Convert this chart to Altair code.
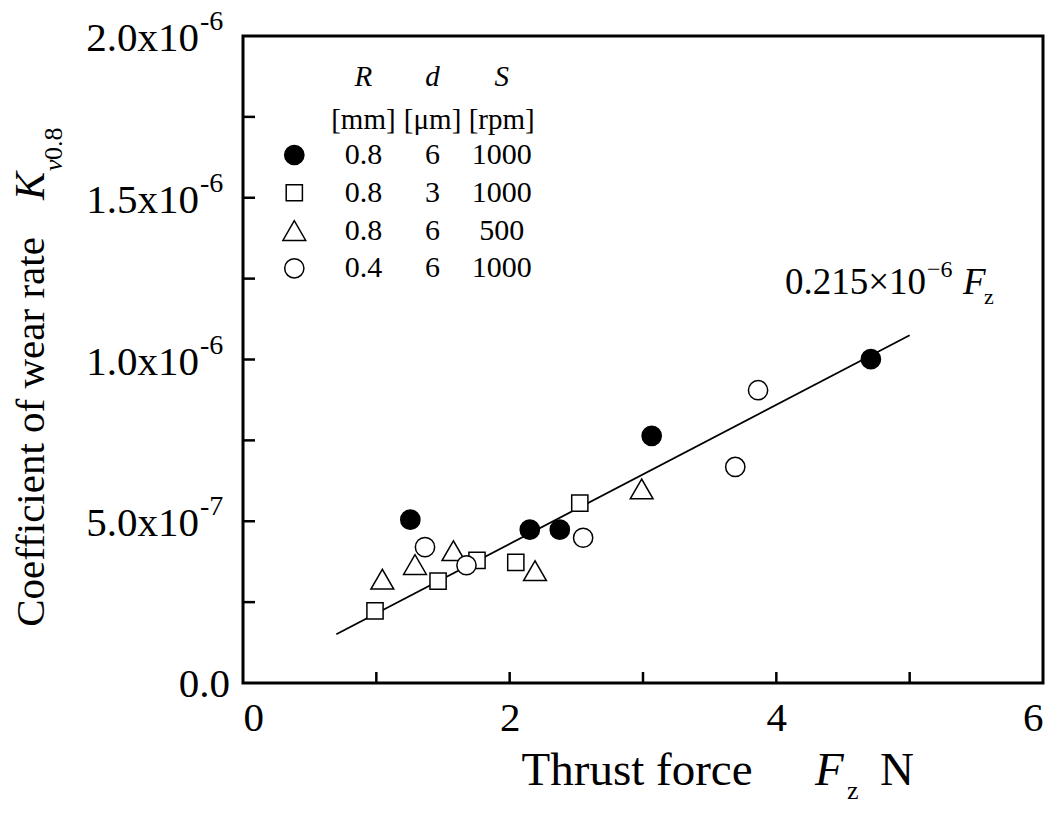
import altair as alt
import pandas as pd

FONT = "Liberation Serif"

# ---- data ----
series_names = ["R0.8 d6 S1000", "R0.8 d3 S1000", "R0.8 d6 S500", "R0.4 d6 S1000"]
# filled circles
fc_x = [1.255, 2.151, 2.376, 3.065, 4.709]
fc_y = [5.05, 4.74, 4.74, 7.64, 10.01]          # x 1e-7
# open squares
sq_x = [0.99, 1.463, 1.755, 2.046, 2.526]
sq_y = [2.23, 3.15, 3.79, 3.73, 5.56]
# open triangles
tr_x = [1.045, 1.29, 1.578, 2.19, 2.99]
tr_y = [3.21, 3.66, 4.09, 3.47, 6.00]
# open circles
oc_x = [1.365, 1.676, 2.551, 3.692, 3.863]
oc_y = [4.20, 3.64, 4.49, 6.68, 9.05]

fit_slope = 0.215e-6
fit_x = [0.7, 5.0]

x_tick_vals = [1, 2, 3, 4, 5]
y_tick_vals = [0.25e-6, 0.5e-6, 0.75e-6, 1.0e-6, 1.25e-6, 1.5e-6, 1.75e-6]
y_label_vals = [0.5e-6, 1.0e-6, 1.5e-6, 2.0e-6]
y_label_mant = ["5.0x10", "1.0x10", "1.5x10", "2.0x10"]
y_label_exp = ["-7", "-6", "-6", "-6"]

leg_R = ["0.8", "0.8", "0.8", "0.4"]
leg_d = ["6", "3", "6", "6"]
leg_S = ["1000", "1000", "500", "1000"]
leg_head1 = ["R", "d", "S"]
leg_head2 = ["[mm]", "[\u03bcm]", "[rpm]"]

# ---- tables ----
rows = []
order = [1, 2, 3, 0]
all_x = [fc_x, sq_x, tr_x, oc_x]
all_y = [fc_y, sq_y, tr_y, oc_y]
for i in order:
    for xv, yv in zip(all_x[i], all_y[i]):
        rows.append({"series": series_names[i], "F": xv, "K": yv * 1e-7})
df = pd.DataFrame(rows)

line_df = pd.DataFrame({"F": fit_x, "K": [fit_slope * v for v in fit_x]})

W, H = 800, 647
xs = alt.Scale(domain=[0, 6], nice=False, zero=False)
ys = alt.Scale(domain=[0, 2e-6], nice=False, zero=False)

TRI = "M0,-0.866L-1,0.866L1,0.866Z"
shape_scale = alt.Scale(domain=series_names, range=["circle", "square", TRI, "circle"])
fill_scale = alt.Scale(domain=series_names, range=["black", "white", "white", "white"])
size_scale = alt.Scale(type="ordinal", domain=series_names, range=[370, 262, 520, 370])

points = alt.Chart(df).mark_point(filled=True, stroke="black", strokeWidth=1.5, opacity=1).encode(
    x=alt.X("F:Q", scale=xs, axis=alt.Axis(values=[0, 2, 4, 6], format="d", labelFont=FONT,
                                          labelFontSize=41, labelColor="black", labelPadding=15,
                                          ticks=False, tickSize=0, domain=False, grid=False,
                                          title=None)),
    y=alt.Y("K:Q", scale=ys, axis=None),
    shape=alt.Shape("series:N", scale=shape_scale, legend=None),
    fill=alt.Fill("series:N", scale=fill_scale, legend=None),
    size=alt.Size("series:N", scale=size_scale, legend=None),
)

line = alt.Chart(line_df).mark_line(color="black", strokeWidth=1.8).encode(
    x=alt.X("F:Q", scale=xs, axis=None),
    y=alt.Y("K:Q", scale=ys, axis=None),
)

xt = alt.Chart(pd.DataFrame({"F": x_tick_vals})).mark_rule(color="black", strokeWidth=2.5).encode(
    x=alt.X("F:Q", scale=xs, axis=None), y=alt.value(H - 11), y2=alt.value(H))
yt = alt.Chart(pd.DataFrame({"K": y_tick_vals})).mark_rule(color="black", strokeWidth=2.5).encode(
    y=alt.Y("K:Q", scale=ys, axis=None), x=alt.value(0), x2=alt.value(12))

ylab_df = pd.DataFrame({"K": y_label_vals, "mant": y_label_mant, "exp": y_label_exp})
ymant = alt.Chart(ylab_df).mark_text(align="right", baseline="alphabetic", font=FONT, fontSize=41,
                                     dx=-44, dy=15, color="black").encode(
    y=alt.Y("K:Q", scale=ys, axis=None), x=alt.value(0), text="mant:N")
yexp = alt.Chart(ylab_df).mark_text(align="left", baseline="alphabetic", font=FONT, fontSize=28,
                                    dx=-43, dy=-6, color="black").encode(
    y=alt.Y("K:Q", scale=ys, axis=None), x=alt.value(0), text="exp:N")
yzero = alt.Chart(pd.DataFrame({"K": [0.0], "t": ["0.0"]})).mark_text(
    align="right", baseline="alphabetic", font=FONT, fontSize=41, dx=-13, dy=14, color="black").encode(
    y=alt.Y("K:Q", scale=ys, axis=None), x=alt.value(0), text="t:N")


def txt(s, x, y, size, align="left", baseline="alphabetic", italic=False, angle=0):
    kw = dict(align=align, baseline=baseline, font=FONT, fontSize=size, color="black")
    if italic:
        kw["fontStyle"] = "italic"
    if angle:
        kw["angle"] = angle
    return alt.Chart(pd.DataFrame({"t": [s]})).mark_text(**kw).encode(
        x=alt.value(x), y=alt.value(y), text="t:N")


# axis titles
x_title = [
    txt("Thrust force", 394, 749, 47, align="center"),
    txt("F", 572, 749, 47, italic=True),
    txt("z", 604, 763, 26),
    txt("N", 637, 749, 47),
]
y_title = [
    txt("Coefficient of wear rate", -199, 396, 41, align="center", angle=270),
    txt("K", -199, 164, 42, italic=True, angle=270),
    txt("v", -181, 135, 26, italic=True, angle=270),
    txt("0.8", -181, 124, 26, angle=270),
]
# fit annotation
annot = [
    txt("0.215\u00d710", 542, 258, 37),
    txt("\u22126", 684, 241, 24),
    txt("F", 720, 258, 37, italic=True),
    txt("z", 741, 268, 22),
]

# legend
leg_rows = []
for i in range(4):
    for c, vals in zip([1, 2, 3], [leg_R, leg_d, leg_S]):
        leg_rows.append({"row": i, "col": c, "t": vals[i]})
leg_text_df = pd.DataFrame(leg_rows)
leg_sym_df = pd.DataFrame({"row": [0, 1, 2, 3], "col": [0, 0, 0, 0], "series": series_names})
lx = alt.Scale(domain=[0, 3], range=[51.3, 258.7])
ly = alt.Scale(domain=[0, 3], range=[119, 232.3])

leg_text = alt.Chart(leg_text_df).mark_text(align="center", baseline="middle", font=FONT,
                                            fontSize=30, color="black").encode(
    x=alt.X("col:Q", scale=lx, axis=None), y=alt.Y("row:Q", scale=ly, axis=None), text="t:N")
leg_sym = alt.Chart(leg_sym_df).mark_point(filled=True, stroke="black", strokeWidth=1.5, opacity=1).encode(
    x=alt.X("col:Q", scale=lx, axis=None), y=alt.Y("row:Q", scale=ly, axis=None),
    shape=alt.Shape("series:N", scale=shape_scale, legend=None),
    fill=alt.Fill("series:N", scale=fill_scale, legend=None),
    size=alt.Size("series:N", scale=size_scale, legend=None),
)
h1 = alt.Chart(pd.DataFrame({"col": [1, 2, 3], "t": leg_head1})).mark_text(
    align="center", baseline="middle", font=FONT, fontSize=29, fontStyle="italic", color="black").encode(
    x=alt.X("col:Q", scale=lx, axis=None), y=alt.value(41), text="t:N")
h2 = alt.Chart(pd.DataFrame({"col": [1, 2, 3], "t": leg_head2})).mark_text(
    align="center", baseline="middle", font=FONT, fontSize=29, color="black").encode(
    x=alt.X("col:Q", scale=lx, axis=None), y=alt.value(84), text="t:N")

chart = alt.layer(
    line, xt, yt, points, ymant, yexp, yzero, *x_title, *y_title, *annot,
    leg_sym, leg_text, h1, h2,
).resolve_scale(
    x="independent", y="independent"
).properties(
    width=W, height=H,
    autosize=alt.AutoSizeParams(type="none"),
    padding={"left": 243, "top": 36, "right": 15, "bottom": 135},
    background="white",
).configure_view(
    stroke="black", strokeWidth=3
)

chart.save("out.html", embed_options={"renderer": "svg", "actions": False})
